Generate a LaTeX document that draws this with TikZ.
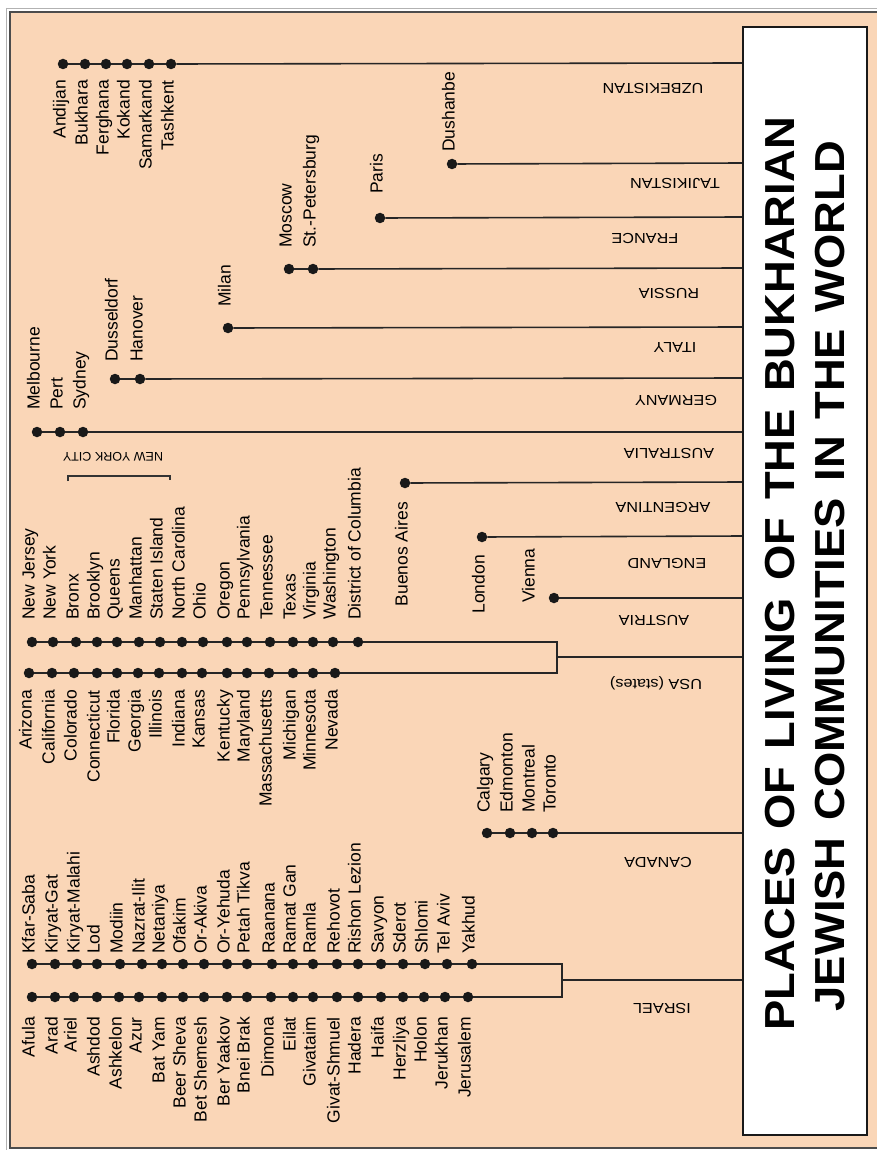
\documentclass[tikz,border=0pt]{standalone}
\usepackage{graphicx}
\usepackage{fontspec}
\setmainfont{Liberation Sans}
\definecolor{peach}{RGB}{250,214,183}
\newcommand\cityfont{\fontsize{17.5}{17.5}\selectfont}
\newcommand\ctryfont{\fontsize{14.5}{14.5}\selectfont}
\newcommand\ttlfont{\fontsize{42}{42}\selectfont\bfseries}
\newcommand\ctry[1]{\scalebox{1.12}[1]{#1}}
% #1 prefix, #2 y, #3 label style, #4 signed label offset, #5 list x/label
\newcommand\dotchain[5]{%
  \foreach \x/\t [count=\i, remember=\i as \lasti (initially 0)] in {#5}{%
    \node[dot] (#1\i) at (\x,#2) {};
    \ifnum\i>1 \draw[link] (#1\lasti) -- (#1\i);\fi
    \node[city,#3] (#1t\i) at ({\x},{#2+(#4)}) {\t};
  }%
}
\tikzset{
  dot/.style={circle, fill=black!90, inner sep=0pt, minimum size=10.5pt},
  link/.style={line width=1.6pt, black!85},
  city/.style={font=\cityfont, inner sep=0pt},
  labup/.style={rotate=90, anchor=mid west},
  labdown/.style={rotate=90, anchor=mid east},
  country/.style={font=\ctryfont, rotate=180, inner sep=0pt},
  ttl/.style={font=\ttlfont, rotate=90, inner sep=0pt},
}
\begin{document}
\begin{tikzpicture}[x=1pt,y=-1pt]
\useasboundingbox (0,0) rectangle (877,1150);
\fill[white] (0,0) rectangle (877,1150);
\fill[peach] (10,12) rectangle (877,1148);
\draw[gray!60, line width=0.8pt] (6,8) -- (877,8);
\draw[gray!60, line width=0.8pt] (6,8) -- (6,1150);
\draw[black!70, line width=1.3pt] (877,12) -- (10,12) -- (10,1148) -- (877,1148);

% ---------- UZBEKISTAN ----------
\dotchain{uz}{64}{labdown}{16}{63/Andijan,85/Bukhara,106/Ferghana,127/Kokand,149/Samarkand,171/Tashkent}
\coordinate (uzR) at (743,63);
\draw[link] (uz6) -- (uzR);
\node[country] (uzC) at (653,88) {\ctry{UZBEKISTAN}};

% ---------- TAJIKISTAN ----------
\dotchain{tj}{164}{labup}{-12}{452/Dushanbe}
\coordinate (tjR) at (743,163);
\draw[link] (tj1) -- (tjR);
\node[country] (tjC) at (675,183) {\ctry{TAJIKISTAN}};

% ---------- FRANCE ----------
\dotchain{fr}{218}{labup}{-24}{380/Paris}
\coordinate (frR) at (743,217);
\draw[link] (fr1) -- (frR);
\node[country] (frC) at (645,238) {\ctry{FRANCE}};

% ---------- RUSSIA ----------
\dotchain{ru}{269}{labup}{-21}{289/Moscow,313/St.-Petersburg}
\coordinate (ruR) at (743,268);
\draw[link] (ru2) -- (ruR);
\node[country] (ruC) at (669,293) {\ctry{RUSSIA}};

% ---------- ITALY ----------
\dotchain{it}{328}{labup}{-21}{228/Milan}
\coordinate (itR) at (743,327);
\draw[link] (it1) -- (itR);
\node[country] (itC) at (675,347) {\ctry{ITALY}};

% ---------- GERMANY ----------
\dotchain{de}{379}{labup}{-17}{115/Dusseldorf,140/Hanover}
\coordinate (deR) at (743,378);
\draw[link] (de2) -- (deR);
\node[country] (deC) at (676,400) {\ctry{GERMANY}};

% ---------- AUSTRALIA ----------
\dotchain{au}{432}{labup}{-22}{37/Melbourne,60/Pert,83/Sydney}
\coordinate (auR) at (743,432);
\draw[link] (au3) -- (auR);
\node[country] (auC) at (669,453) {\ctry{AUSTRALIA}};

% ---------- ARGENTINA ----------
\dotchain{ar}{483}{labdown}{19}{405/Buenos Aires}
\coordinate (arR) at (743,482);
\draw[link] (ar1) -- (arR);
\node[country] (arC) at (663,507) {\ctry{ARGENTINA}};

% ---------- ENGLAND ----------
\dotchain{en}{537}{labdown}{18}{482/London}
\coordinate (enR) at (743,536);
\draw[link] (en1) -- (enR);
\node[country] (enC) at (667,563) {\ctry{ENGLAND}};

% ---------- AUSTRIA ----------
\node[dot] (at1) at (554,598) {};
\node[city, labup] (att1) at (532,603) {Vienna};
\coordinate (atR) at (743,598);
\draw[link] (at1) -- (atR);
\node[country] (atC) at (654,620) {\ctry{AUSTRIA}};

% ---------- USA ----------
\dotchain{us}{642}{labup}{-22}{32/New Jersey,53/New York,76/Bronx,97/Brooklyn,117/Queens,139/Manhattan,160/Staten Island,182/North Carolina,203/Ohio,227/Oregon,247/Pennsylvania,270/Tennessee,293/Texas,313/Virginia,333/Washington,358/District of Columbia}
\dotchain{ul}{673}{labdown}{17}{29/Arizona,52/California,74/Colorado,97/Connecticut,117/Florida,138/Georgia,159/Illinois,182/Indiana,202/Kansas,227/Kentucky,247/Maryland,269/Massachusetts,293/Michigan,313/Minnesota,335/Nevada}
\coordinate (usJt) at (557,642);
\coordinate (usJb) at (557,673);
\coordinate (usJm) at (557,657);
\coordinate (usR) at (743,657);
\draw[link] (us16) -- (usJt) -- (usJb) -- (ul15);
\draw[link] (usJm) -- (usR);
\node[country] (usC) at (656,683) {\ctry{USA (states)}};

% New York City bracket
\coordinate (nycA) at (68,481);
\coordinate (nycB) at (68,476);
\coordinate (nycC) at (170,476);
\coordinate (nycD) at (170,480);
\draw[line width=1.2pt, black!80] (nycA) -- (nycB) -- (nycC) -- (nycD);
\node[rotate=180, font=\fontsize{12.5}{12.5}\selectfont, inner sep=0pt] (nyc) at (113,457) {NEW YORK CITY};

% ---------- CANADA ----------
\dotchain{ca}{833}{labup}{-20}{487/Calgary,510/Edmonton,532/Montreal,553/Toronto}
\coordinate (caR) at (743,833);
\draw[link] (ca4) -- (caR);
\node[country] (caC) at (658,862) {\ctry{CANADA}};

% ---------- ISRAEL ----------
\dotchain{iu}{964}{labup}{-10}{32/Kfar-Saba,55/Kiryat-Gat,77/Kiryat-Malahi,97/Lod,120/Modiin,142/Nazrat-Ilit,162/Netaniya,183/Ofakim,204/Or-Akiva,227/Or-Yehuda,247/Petah Tikva,272/Raanana,293/Ramat Gan,313/Ramla,337/Rehovot,358/Rishon Lezion,381/Savyon,403/Sderot,425/Shlomi,447/Tel Aviv,472/Yakhud}
\dotchain{il}{997}{labdown}{20}{32/Afula,55/Arad,74/Ariel,97/Ashdod,119/Ashkelon,139/Azur,162/Bat Yam,183/Beer Sheva,204/Bet Shemesh,227/Ber Yaakov,247/Bnei Brak,271/Dimona,293/Eilat,313/Givataim,337/Givat-Shmuel,358/Hadera,381/Haifa,403/Herzliya,424/Holon,445/Jerukhan,468/Jerusalem}
\coordinate (isJt) at (562,964);
\coordinate (isJb) at (562,997);
\coordinate (isJm) at (562,980);
\coordinate (isR) at (743,980);
\draw[link] (iu21) -- (isJt) -- (isJb) -- (il21);
\draw[link] (isJm) -- (isR);
\node[country] (isC) at (662,1008) {\ctry{ISRAEL}};

% ---------- Title box ----------
\node[draw=black!90, line width=2.4pt, fill=white, minimum width=124pt, minimum height=1108pt, inner sep=0pt] (tbox) at (805,581) {};
\node[ttl] (t1) at (780,574) {\scalebox{1.08}[1]{\makebox[846pt][s]{PLACES\hfill OF\hfill LIVING\hfill OF\hfill THE\hfill BUKHARIAN}}};
\node[ttl] (t2) at (830,576) {\scalebox{1.08}[1]{\makebox[806pt][s]{JEWISH\hfill COMMUNITIES\hfill IN\hfill THE\hfill WORLD}}};
\end{tikzpicture}
\end{document}
